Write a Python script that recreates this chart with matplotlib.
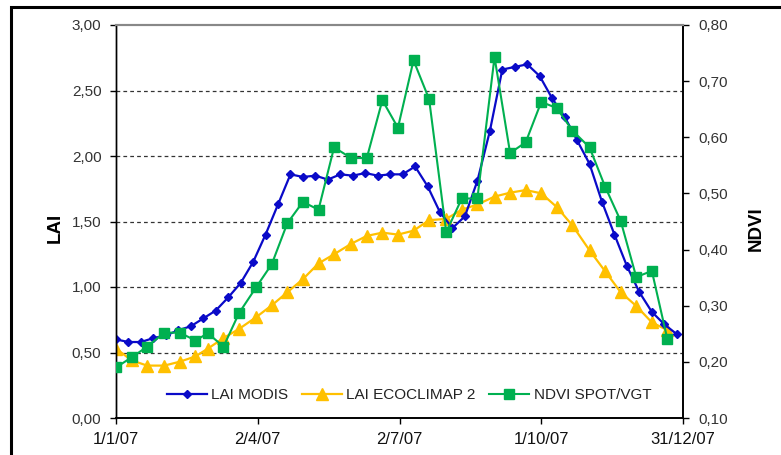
import pandas as pd
import matplotlib
matplotlib.use("Agg")
import matplotlib.pyplot as plt
import matplotlib.dates as mdates
from matplotlib.patches import Rectangle
from matplotlib.ticker import FuncFormatter, MultipleLocator

plt.rcParams['font.family'] = ['Liberation Sans', 'DejaVu Sans']

# --- Data ---
# LAI MODIS: 8-day composites starting 1 Jan 2007
modis_dates = pd.date_range("2007-01-01", periods=46, freq="8D")
lai_modis = [0.60, 0.58, 0.58, 0.61, 0.63, 0.67, 0.70, 0.76, 0.82, 0.92,
             1.03, 1.19, 1.40, 1.63, 1.86, 1.84, 1.85, 1.82, 1.86, 1.85,
             1.87, 1.85, 1.86, 1.86, 1.92, 1.77, 1.57, 1.45, 1.54, 1.81,
             2.19, 2.66, 2.68, 2.70, 2.61, 2.44, 2.30, 2.12, 1.94, 1.65,
             1.40, 1.16, 0.96, 0.81, 0.715, 0.64]

# dekads (1st, 11th, 21st of each month)
dekad_dates = [pd.Timestamp(2007, m, d) for m in range(1, 13) for d in (1, 11, 21)]
lai_ecoclimap = [0.53, 0.44, 0.40, 0.40, 0.43, 0.47, 0.53, 0.61, 0.68, 0.77,
                 0.86, 0.96, 1.06, 1.18, 1.25, 1.33, 1.39, 1.415, 1.40, 1.43,
                 1.51, 1.52, 1.59, 1.63, 1.69, 1.72, 1.74, 1.715, 1.61, 1.47,
                 1.28, 1.12, 0.96, 0.855, 0.73, 0.67]
ndvi_spot = [0.190, 0.208, 0.227, 0.252, 0.252, 0.238, 0.251, 0.227, 0.287, 0.333,
             0.374, 0.447, 0.485, 0.471, 0.582, 0.563, 0.563, 0.666, 0.617, 0.737,
             0.668, 0.431, 0.491, 0.491, 0.743, 0.572, 0.591, 0.663, 0.652, 0.612,
             0.582, 0.512, 0.451, 0.351, 0.362, 0.240]

xtick_dates = [pd.Timestamp(2007, 1, 1), pd.Timestamp(2007, 4, 2), pd.Timestamp(2007, 7, 2),
               pd.Timestamp(2007, 10, 1), pd.Timestamp(2007, 12, 31)]
xtick_labels = ['1/1/07', '2/4/07', '2/7/07', '1/10/07', '31/12/07']

c_modis = '#0A0AC8'
c_eco = '#FFC000'
c_ndvi = '#00B050'

comma = FuncFormatter(lambda v, p: f"{v:.2f}".replace('.', ','))

# --- Figure ---
fig = plt.figure(figsize=(7.81, 4.55), dpi=100)
ax = fig.add_axes([116 / 781, 37 / 455, 567 / 781, 393 / 455])
ax2 = ax.twinx()

l1, = ax.plot(modis_dates, lai_modis, '-D', color=c_modis, lw=1.6, ms=4.2,
              label='LAI MODIS', zorder=3)
l2, = ax.plot(dekad_dates, lai_ecoclimap, '-^', color=c_eco, lw=1.6, ms=8.5,
              label='LAI ECOCLIMAP 2', zorder=2)
l3, = ax2.plot(dekad_dates, ndvi_spot, '-s', color=c_ndvi, lw=1.5, ms=7.5,
               label='NDVI SPOT/VGT', zorder=3)

ax.set_xlim(pd.Timestamp(2007, 1, 1), pd.Timestamp(2007, 12, 31))
ax.set_ylim(0, 3)
ax2.set_ylim(0.1, 0.8)

ax.yaxis.set_major_locator(MultipleLocator(0.5))
ax.yaxis.set_major_formatter(comma)
ax2.yaxis.set_major_locator(MultipleLocator(0.1))
ax2.yaxis.set_major_formatter(comma)

ax.set_xticks(xtick_dates)
ax.set_xticklabels(xtick_labels)

# dashed horizontal gridlines on the LAI scale
for v in [0.5, 1.0, 1.5, 2.0, 2.5]:
    ax.axhline(v, color='#333333', lw=0.9, ls=(0, (3, 2.5)), zorder=1)

ax.tick_params(axis='y', direction='out', length=4, width=1, pad=6.5,
               labelsize=11, labelcolor='#333333')
ax.tick_params(axis='x', direction='out', length=4, width=1, pad=6,
               labelsize=12, labelcolor='#111111')
ax2.tick_params(axis='y', direction='out', length=4, width=1, pad=7,
                labelsize=11, labelcolor='#333333')

for a in (ax, ax2):
    a.spines['top'].set_color('#888888')
    a.spines['top'].set_linewidth(1.5)
    a.spines['bottom'].set_linewidth(1.2)
    a.spines['right'].set_linewidth(1.2)
    a.spines['left'].set_linewidth(1.0)
    a.spines['left'].set_linestyle((0, (2, 1)))

fig.text(55 / 781, 1 - 228 / 455, 'LAI', rotation=90, fontsize=13.5,
         fontweight='bold', ha='center', va='center')
fig.text(756 / 781, 1 - 229 / 455, 'NDVI', rotation=90, fontsize=13.5,
         fontweight='bold', ha='center', va='center')

leg = ax.legend(handles=[l1, l2, l3], loc='center', bbox_to_anchor=(0.517, 0.0585),
                ncol=3, frameon=False, fontsize=11, handlelength=2.6,
                handletextpad=0.3, columnspacing=0.9, borderaxespad=0)
for t in leg.get_texts():
    t.set_color('#222222')

# outer chart border
fig.add_artist(Rectangle((11 / 781, -0.2), 1.0, 1.2 - 7 / 455 + 0.0,
                         transform=fig.transFigure, fill=False,
                         edgecolor='black', lw=2.2))

fig.savefig('out.png', dpi=100)
